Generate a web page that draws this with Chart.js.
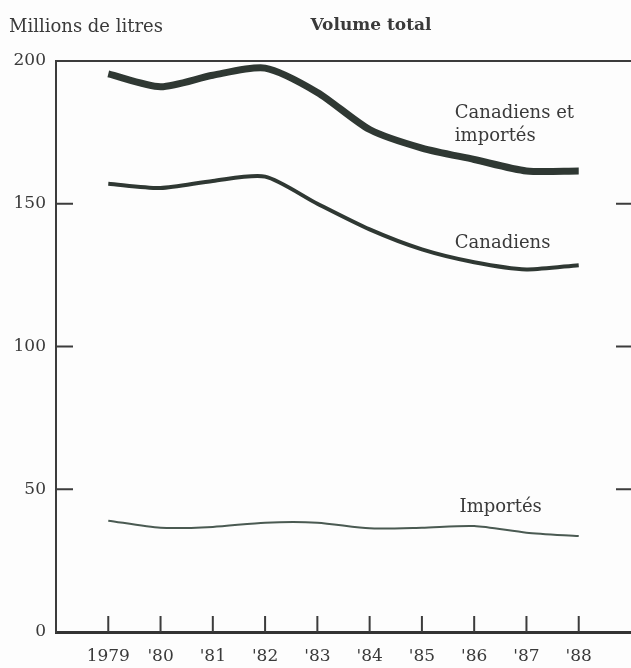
<!DOCTYPE html>
<html>
<head>
<meta charset="utf-8">
<script src="https://cdn.jsdelivr.net/npm/chart.js@4.4.0/dist/chart.umd.min.js"></script>
<style>
  html, body { margin: 0; padding: 0; background: #fdfdfd; }
  #wrap { width: 631px; height: 668px; }
</style>
</head>
<body>
<div id="wrap"><canvas id="myChart" width="631" height="668"></canvas></div>
<script>
var years = [1979, 1980, 1981, 1982, 1983, 1984, 1985, 1986, 1987, 1988];
var yearLabels = ["1979", "'80", "'81", "'82", "'83", "'84", "'85", "'86", "'87", "'88"];
var totalValues = [195.5, 191, 195, 197.5, 189, 176, 169.5, 165.5, 161.5, 161.5];
var canadianValues = [157, 155.5, 158, 159.5, 150, 141, 134, 129.5, 127, 128.5];
var importedValues = [39, 36.5, 36.8, 38.3, 38.3, 36.3, 36.5, 37.1, 34.8, 33.6];
var yTicks = [0, 50, 100, 150, 200];

var inkColor = "#2f3833";
var textColor = "#3a3a3a";
var serif = "'DejaVu Serif', 'Liberation Serif', serif";

function toPoints(values) {
    return values.map(function (v, i) {
        return { x: years[i], y: v };
    });
}

// frame top line, inward ticks and the text labels of the picture
var decorations = {
    id: "decorations",
    afterDraw: function (chart) {
        var ctx = chart.ctx;
        var area = chart.chartArea;
        var xs = chart.scales.x;
        var ys = chart.scales.y;

        ctx.save();
        ctx.strokeStyle = "#3c3c3c";
        ctx.lineWidth = 2;
        ctx.beginPath();
        ctx.moveTo(area.left, area.top);
        ctx.lineTo(area.right, area.top);
        ctx.stroke();

        ctx.beginPath();
        for (var i = 1; i < yTicks.length - 1; i++) {
            var py = ys.getPixelForValue(yTicks[i]);
            ctx.moveTo(area.left, py);
            ctx.lineTo(area.left + 17, py);
            ctx.moveTo(area.right - 15, py);
            ctx.lineTo(area.right, py);
        }
        for (var j = 0; j < years.length; j++) {
            var px = xs.getPixelForValue(years[j]);
            ctx.moveTo(px, area.bottom);
            ctx.lineTo(px, area.bottom - 16);
        }
        ctx.stroke();

        ctx.fillStyle = textColor;
        ctx.textBaseline = "middle";
        ctx.font = "18px " + serif;
        ctx.textAlign = "left";
        ctx.fillText("Millions de litres", 9, 27);
        ctx.font = "bold 17px " + serif;
        ctx.textAlign = "center";
        ctx.fillText("Volume total", 371, 26);

        ctx.font = "18px " + serif;
        ctx.textAlign = "left";
        ctx.fillText("Canadiens et", xs.getPixelForValue(1985.63), ys.getPixelForValue(181.5));
        ctx.fillText("importés", xs.getPixelForValue(1985.63), ys.getPixelForValue(173.5));
        ctx.fillText("Canadiens", xs.getPixelForValue(1985.63), ys.getPixelForValue(136));
        ctx.fillText("Importés", xs.getPixelForValue(1985.72), ys.getPixelForValue(43.5));
        ctx.restore();
    }
};

new Chart("myChart", {
    type: "line",
    data: {
        datasets: [
            {
                label: "Canadiens et importés",
                data: toPoints(totalValues),
                borderColor: inkColor,
                borderWidth: 7,
                borderCapStyle: "butt",
                tension: 0.25
            },
            {
                label: "Canadiens",
                data: toPoints(canadianValues),
                borderColor: inkColor,
                borderWidth: 4,
                tension: 0.25
            },
            {
                label: "Importés",
                data: toPoints(importedValues),
                borderColor: "#4a5a52",
                borderWidth: 2,
                tension: 0.25
            }
        ]
    },
    options: {
        responsive: false,
        animation: false,
        layout: { padding: { top: 61, left: 0, right: 0, bottom: 0 } },
        elements: { point: { radius: 0 } },
        plugins: {
            legend: { display: false },
            tooltip: { enabled: false }
        },
        scales: {
            x: {
                type: "linear",
                min: years[0] - 1,
                max: years[years.length - 1] + 1,
                afterBuildTicks: function (scale) {
                    scale.ticks = years.map(function (y) { return { value: y }; });
                },
                afterFit: function (scale) { scale.height = 36; },
                grid: { display: false, drawTicks: false },
                border: { display: true, color: "#333", width: 3 },
                ticks: {
                    autoSkip: false,
                    maxRotation: 0,
                    padding: 14,
                    color: textColor,
                    font: { family: serif, size: 17 },
                    callback: function (value) {
                        return yearLabels[years.indexOf(value)];
                    }
                }
            },
            y: {
                min: 0,
                max: 200,
                afterBuildTicks: function (scale) {
                    scale.ticks = yTicks.map(function (v) { return { value: v }; });
                },
                afterFit: function (scale) { scale.width = 56; },
                grid: { display: false, drawTicks: false },
                border: { display: true, color: "#3c3c3c", width: 2 },
                ticks: {
                    padding: 10,
                    color: textColor,
                    font: { family: serif, size: 17 }
                }
            }
        }
    },
    plugins: [decorations]
});
</script>
</body>
</html>
